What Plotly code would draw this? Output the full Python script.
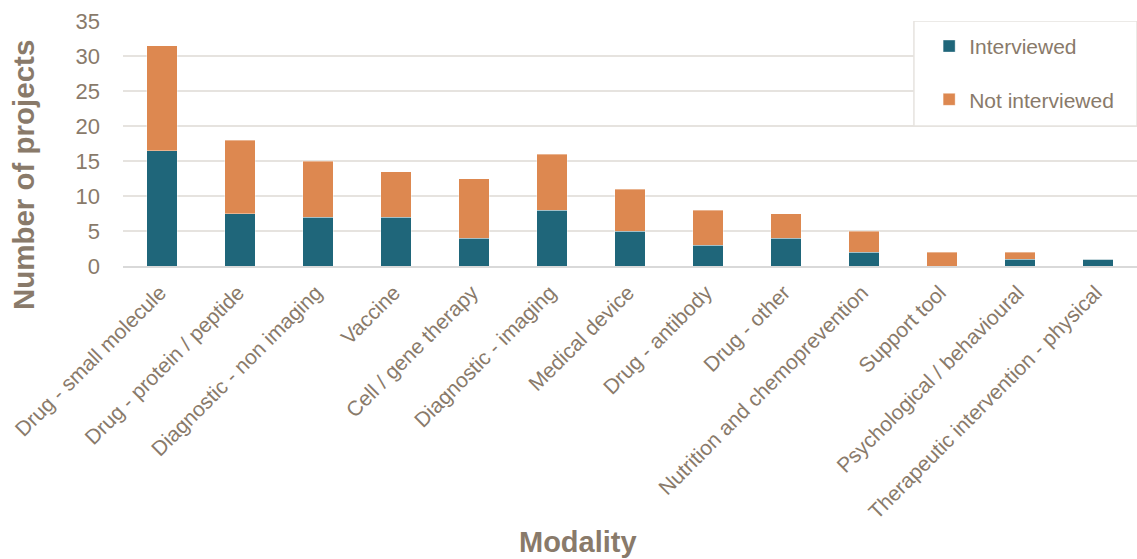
import plotly.graph_objects as go

categories = ["Drug - small molecule", "Drug - protein / peptide", "Diagnostic - non imaging",
              "Vaccine", "Cell / gene therapy", "Diagnostic - imaging", "Medical device",
              "Drug - antibody", "Drug - other", "Nutrition and chemoprevention",
              "Support tool", "Psychological / behavioural", "Therapeutic intervention - physical"]
interviewed = [16.5, 7.5, 7, 7, 4, 8, 5, 3, 4, 2, 0, 1, 1]
not_interviewed = [15, 10.5, 8, 6.5, 8.5, 8, 6, 5, 3.5, 3, 2, 1, 0]
y_ticks = [0, 5, 10, 15, 20, 25, 30, 35]

TEXT = "rgb(137,122,106)"
FONT = "Liberation Sans, Arial, sans-serif"

fig = go.Figure()
fig.add_trace(go.Bar(x=categories, y=interviewed, name="Interviewed",
                     marker=dict(color="rgb(31,102,122)", line=dict(width=0.6, color="rgba(255,255,255,0.6)")),
                     legendgroup="a"))
fig.add_trace(go.Bar(x=categories, y=not_interviewed, name="Not interviewed",
                     marker=dict(color="rgb(221,136,80)", line=dict(width=0.6, color="rgba(255,255,255,0.6)")),
                     legendgroup="b"))

fig.update_layout(
    width=1137, height=559,
    margin=dict(l=123, r=0, t=21, b=293),
    barmode="stack", bargap=0.61,
    plot_bgcolor="white", paper_bgcolor="white",
    font=dict(family=FONT, color=TEXT),
    showlegend=True,
    legend=dict(x=0.795, y=0.98, xanchor="left", yanchor="top",
                traceorder="grouped", tracegroupgap=23,
                bgcolor="rgba(0,0,0,0)", borderwidth=0,
                font=dict(size=21, color=TEXT, family=FONT),
                itemwidth=30),
    xaxis=dict(tickangle=-45, tickfont=dict(size=21, color=TEXT), showgrid=False,
               showline=True, linecolor="rgb(217,217,217)", linewidth=2,
               ticks="", ticklabelstandoff=4, ticklabelshift=-2),
    yaxis=dict(range=[0, 35], tickvals=y_ticks, tickfont=dict(size=22, color=TEXT),
               showgrid=True, gridcolor="rgb(230,227,223)", gridwidth=1.5,
               zeroline=False, ticklabelstandoff=22),
    shapes=[dict(type="rect", xref="paper", yref="y", x0=0.78, x1=1.0, y0=20, y1=35,
                 line=dict(color="rgb(230,227,223)", width=1.5), fillcolor="white", layer="above")],
    annotations=[
        dict(text="<b>Number of projects</b>", xref="paper", yref="paper", x=-0.0986, y=0.371,
             xanchor="center", yanchor="middle", textangle=-90, showarrow=False,
             font=dict(size=29.5, color=TEXT, family=FONT)),
        dict(text="<b>Modality</b>", xref="paper", yref="paper", x=0.449, y=-1.127,
             xanchor="center", yanchor="middle", showarrow=False,
             font=dict(size=29, color=TEXT, family=FONT)),
    ],
)

fig.write_html("out.html")
